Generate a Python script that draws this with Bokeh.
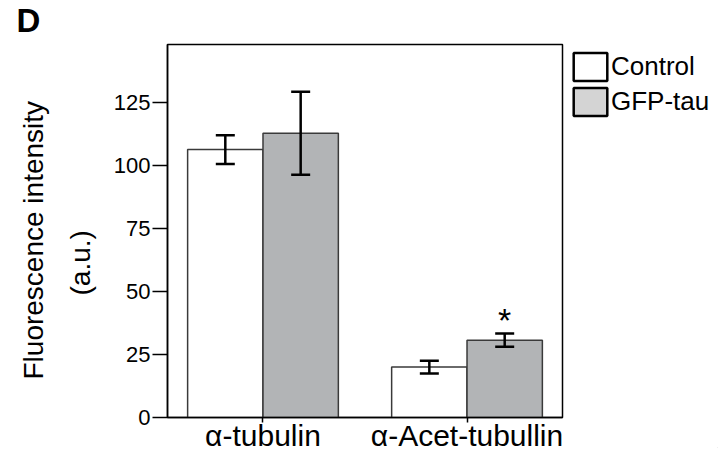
from bokeh.plotting import figure
from bokeh.layouts import column, row
from bokeh.models import (ColumnDataSource, Whisker, TeeHead, Legend, Title, Label,
                          LegendItem, FixedTicker, Range1d)
from bokeh.core.properties import value
from bokeh.embed import file_html
from bokeh.resources import INLINE

# ---- data ----
categories = ["α-tubulin", "α-Acet-tubullin"]
series = ["Control", "GFP-tau"]
control_mean = [106.3, 20.0]
control_err = [5.7, 2.5]
gfp_mean = [112.8, 30.7]
gfp_err = [16.5, 2.6]
significant = [False, True]          # GFP-tau vs Control
y_ticks = [0, 25, 50, 75, 100, 125]
y_max = 148

# ---- layout helpers ----
PAD = 0.267     # empty space at the ends (bar widths)
GAP = 0.707     # gap between groups (bar widths)
centers = [PAD + g * (2 + GAP) + 1 for g in range(len(categories))]

FONT = "Liberation Sans"

# ================= main chart =================
p = figure(width=564, height=417,
           x_range=Range1d(0, 2 * PAD + 2 * len(categories) + GAP * (len(categories) - 1)),
           y_range=Range1d(0, y_max),
           output_backend="svg", toolbar_location=None,
           min_border_left=167, min_border_right=2,
           min_border_top=1, min_border_bottom=0)
p.grid.visible = False
p.outline_line_color = "black"
p.outline_line_width = 1.5

src_c = ColumnDataSource(dict(
    x=[c - 0.5 for c in centers], top=control_mean,
    upper=[m + e for m, e in zip(control_mean, control_err)],
    lower=[m - e for m, e in zip(control_mean, control_err)]))
src_g = ColumnDataSource(dict(
    x=[c + 0.5 for c in centers], top=gfp_mean,
    upper=[m + e for m, e in zip(gfp_mean, gfp_err)],
    lower=[m - e for m, e in zip(gfp_mean, gfp_err)]))

p.vbar(x="x", top="top", bottom=0, width=1.0, source=src_c,
       fill_color="white", line_color="#3a3a3a", line_width=1.5)
p.vbar(x="x", top="top", bottom=0, width=1.0, source=src_g,
       fill_color="#b2b4b6", line_color="#3a3a3a", line_width=1.5)

for src in (src_c, src_g):
    w = Whisker(source=src, base="x", upper="upper", lower="lower",
                line_color="black", line_width=2.5, level="overlay",
                upper_head=TeeHead(size=19, line_color="black", line_width=2.5),
                lower_head=TeeHead(size=19, line_color="black", line_width=2.5))
    p.add_layout(w)

sig_x = [c + 0.5 for c, s in zip(centers, significant) if s]
sig_y = [m + e for m, e, s in zip(gfp_mean, gfp_err, significant) if s]
p.text(x=sig_x, y=sig_y, text=["*"] * len(sig_x), text_font=value(FONT),
       text_font_size="34px", text_align="center", text_baseline="alphabetic",
       y_offset=-14, text_color="black")

p.yaxis.ticker = FixedTicker(ticks=y_ticks)
p.yaxis.major_tick_out = 15
p.yaxis.major_tick_in = 0
p.yaxis.minor_tick_line_color = None
p.yaxis.axis_line_width = 1.5
p.yaxis.major_tick_line_width = 1.5
p.yaxis.major_label_text_font_size = "22px"
p.yaxis.major_label_text_font = FONT
p.yaxis.major_label_text_color = "black"
p.yaxis.major_label_standoff = 2

p.xaxis.ticker = FixedTicker(ticks=centers)
p.xaxis.major_label_overrides = {c: n for c, n in zip(centers, categories)}
p.xaxis.major_tick_out = 5
p.xaxis.major_tick_in = 0
p.xaxis.minor_tick_line_color = None
p.xaxis.axis_line_width = 1.5
p.xaxis.major_tick_line_width = 1.5
p.xaxis.major_label_text_font_size = "30px"
p.xaxis.major_label_text_font = FONT
p.xaxis.major_label_text_color = "black"
p.xaxis.major_label_standoff = -4

p.add_layout(Title(text="(a.u.)", align="left", offset=122, standoff=29,
                   text_font_size="28px", text_font=FONT, text_font_style="normal",
                   text_color="black"), "left")
p.add_layout(Title(text="Fluorescence intensity", align="left", offset=38, standoff=0,
                   text_font_size="28px", text_font=FONT, text_font_style="normal",
                   text_color="black"), "left")

# ================= legend strip =================
lg = figure(frame_width=154, frame_height=404, x_range=Range1d(0, 1), y_range=Range1d(0, 1),
            x_axis_location=None, y_axis_location=None,
            output_backend="svg", toolbar_location=None,
            min_border_left=0, min_border_right=0, min_border_top=7, min_border_bottom=0)
lg.outline_line_color = None
lg.grid.visible = False
# legend proxies (far outside the strip's ranges, so only their swatches show)
r_c = lg.vbar(x=[5], top=[-5], bottom=[-6], width=1.0,
              fill_color="white", line_color="black", line_width=2.5)
r_g = lg.vbar(x=[5], top=[-5], bottom=[-6], width=1.0,
              fill_color="#d4d4d4", line_color="black", line_width=2.5)
legend = Legend(items=[LegendItem(label=series[0], renderers=[r_c]),
                       LegendItem(label=series[1], renderers=[r_g])],
                location="top_left", glyph_width=42, glyph_height=35, label_height=30,
                spacing=0, padding=0, margin=5, label_standoff=0,
                border_line_alpha=0, background_fill_alpha=0,
                label_text_font_size="26px", label_text_font=FONT,
                label_text_color="black")
lg.add_layout(legend)

# ================= panel letter strip =================
top = figure(width=718, height=37, x_range=Range1d(0, 1), y_range=Range1d(0, 1),
             x_axis_location=None, y_axis_location=None,
             output_backend="svg", toolbar_location=None,
             min_border_left=0, min_border_right=0, min_border_top=0, min_border_bottom=0)
top.outline_line_color = None
top.grid.visible = False
top.add_layout(Label(x=16, y=17, x_units="screen", y_units="screen", text="D",
                     text_align="left", text_baseline="alphabetic",
                     text_font_size="33px", text_font=FONT, text_font_style="bold",
                     text_color="black"))

layout = column(top, row(p, lg, spacing=0), spacing=0)
open("out.html", "w").write(file_html(layout, INLINE))
